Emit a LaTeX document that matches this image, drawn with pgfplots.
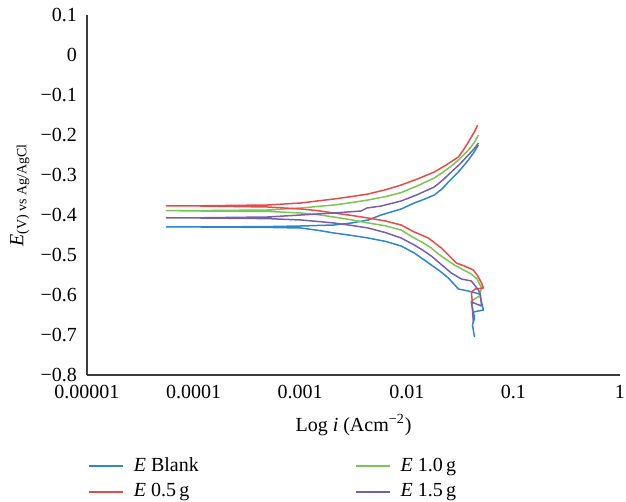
\documentclass[border=0pt]{standalone}
\usepackage{fontspec}
\setmainfont{Liberation Serif}
\usepackage{pgfplots}
\pgfplotsset{compat=1.18}
\definecolor{cBlank}{RGB}{46,134,203}
\definecolor{cHalf}{RGB}{228,75,75}
\definecolor{cOne}{RGB}{122,197,84}
\definecolor{cOneHalf}{RGB}{121,95,170}
\definecolor{axgray}{RGB}{60,60,60}
\begin{document}
\begin{tikzpicture}
\useasboundingbox (-43.5pt,-63.5pt) rectangle (269.5pt,187.5pt);
\begin{axis}[
  scale only axis,
  width=266.5pt, height=180pt,
  xmin=-5, xmax=0, ymin=-0.8, ymax=0.1,
  axis x line=bottom, axis y line=left,
  axis line style={axgray, line width=0.6pt, -},
  major tick length=0pt,
  xtick={-5,-4,-3,-2,-1,0},
  xticklabels={0.00001,0.0001,0.001,0.01,0.1,1},
  ytick={-0.8,-0.7,-0.6,-0.5,-0.4,-0.3,-0.2,-0.1,0,0.1},
  yticklabels={−0.8,−0.7,−0.6,−0.5,−0.4,−0.3,−0.2,−0.1,0,0.1},
  tick label style={font=\fontsize{10}{12}\selectfont},
  yticklabel style={xshift=-1.5pt},
  xticklabel style={yshift=-1.5pt},
  xlabel={Log \textit{i} (Acm\textsuperscript{−2})},
  ylabel={\textit{E}\textsubscript{(V) vs Ag/AgCl}},
  label style={font=\fontsize{10}{12}\selectfont},
  xlabel style={at={(axis description cs:0.5,-0.139)}, anchor=center},
  ylabel style={at={(axis description cs:-0.126,0.5)}, anchor=center, rotate=0},
  clip=false,
  legend columns=2,
  legend cell align=left,
  legend style={at={(axis description cs:-0.01,-0.2065)}, anchor=north west, draw=none,
    font=\fontsize{10}{12}\selectfont, row sep=0.5pt,
    /tikz/every odd column/.append style={column sep=3pt},
    /tikz/every even column/.append style={column sep=76pt}},
  legend image code/.code={\draw[#1, line width=0.9pt] (0pt,0pt) -- (17pt,0pt);},
  every axis plot/.append style={line width=0.75pt, line join=round},
]
\addplot[cBlank] coordinates {
(-1.365,-0.705) (-1.384,-0.675) (-1.365,-0.6575) (-1.375,-0.6425) (-1.281,-0.6375)
(-1.318,-0.5975) (-1.422,-0.59) (-1.516,-0.585) (-1.560,-0.572) (-1.610,-0.5575) (-1.690,-0.540) (-1.770,-0.525)
(-1.836,-0.5125) (-1.930,-0.495) (-2.053,-0.4775) (-2.200,-0.466) (-2.363,-0.4575) (-2.520,-0.451) (-2.684,-0.445)
(-2.840,-0.438) (-2.994,-0.4325) (-3.305,-0.431) (-3.936,-0.43) (-4.256,-0.43)
(-3.936,-0.43) (-3.305,-0.429) (-2.994,-0.4275) (-2.684,-0.425) (-2.520,-0.420) (-2.363,-0.4125)
(-2.241,-0.4) (-2.053,-0.385) (-1.930,-0.37) (-1.830,-0.360) (-1.742,-0.35) (-1.670,-0.335) (-1.610,-0.3175)
(-1.516,-0.2925) (-1.422,-0.2625) (-1.370,-0.243) (-1.328,-0.225)
};
\addlegendentry{\textit{E} Blank}
\addplot[cOne] coordinates {
(-1.375,-0.6425) (-1.394,-0.615) (-1.318,-0.6025) (-1.299,-0.5825) (-1.340,-0.560) (-1.394,-0.5475)
(-1.470,-0.537) (-1.554,-0.525) (-1.630,-0.511) (-1.704,-0.4975) (-1.770,-0.4825) (-1.850,-0.469) (-1.930,-0.4575) (-2.053,-0.4375)
(-2.200,-0.427) (-2.363,-0.42) (-2.520,-0.412) (-2.684,-0.405) (-2.840,-0.399) (-2.994,-0.395) (-3.305,-0.391) (-3.936,-0.39) (-4.256,-0.389)
(-3.936,-0.389) (-3.305,-0.3875) (-2.994,-0.3825) (-2.684,-0.375) (-2.520,-0.369) (-2.363,-0.3625)
(-2.200,-0.354) (-2.053,-0.344) (-1.900,-0.327) (-1.742,-0.3075) (-1.660,-0.293) (-1.582,-0.2775) (-1.500,-0.259) (-1.422,-0.2375) (-1.370,-0.220) (-1.328,-0.2)
};
\addlegendentry{\textit{E} 1.0\,g}
\addplot[cHalf] coordinates {
(-1.384,-0.6225) (-1.394,-0.5925) (-1.356,-0.585) (-1.281,-0.5825) (-1.299,-0.57) (-1.335,-0.552)
(-1.375,-0.5375) (-1.460,-0.5275) (-1.535,-0.52) (-1.610,-0.5) (-1.676,-0.4825)
(-1.798,-0.4575) (-1.930,-0.4425) (-2.053,-0.425) (-2.200,-0.415) (-2.363,-0.4075) (-2.520,-0.401) (-2.684,-0.395)
(-2.840,-0.389) (-2.994,-0.385) (-3.305,-0.38) (-3.936,-0.3775) (-4.256,-0.377)
(-3.936,-0.377) (-3.305,-0.375) (-2.994,-0.37) (-2.840,-0.365) (-2.684,-0.36) (-2.520,-0.354) (-2.363,-0.3475)
(-2.200,-0.337) (-2.053,-0.325) (-1.900,-0.310) (-1.742,-0.2925) (-1.630,-0.275) (-1.516,-0.255) (-1.470,-0.238) (-1.422,-0.2175) (-1.356,-0.1875) (-1.337,-0.175)
};
\addlegendentry{\textit{E} 0.5\,g}
\addplot[cOneHalf] coordinates {
(-1.375,-0.67) (-1.384,-0.6375) (-1.394,-0.6175) (-1.299,-0.6275) (-1.309,-0.6)
(-1.328,-0.5875) (-1.394,-0.565) (-1.488,-0.56) (-1.582,-0.545) (-1.680,-0.523) (-1.770,-0.5025)
(-1.850,-0.488) (-1.930,-0.475) (-2.053,-0.4575) (-2.200,-0.444) (-2.363,-0.4325) (-2.520,-0.426) (-2.684,-0.42) (-2.840,-0.416) (-2.994,-0.4125)
(-3.305,-0.409) (-3.936,-0.4075) (-4.256,-0.407)
(-3.936,-0.407) (-3.305,-0.405) (-2.994,-0.4) (-2.684,-0.395) (-2.429,-0.39)
(-2.373,-0.3825) (-2.241,-0.3775) (-2.053,-0.365) (-1.900,-0.349) (-1.742,-0.33) (-1.660,-0.312) (-1.582,-0.2925)
(-1.500,-0.272) (-1.422,-0.25) (-1.370,-0.235) (-1.328,-0.22)
};
\addlegendentry{\textit{E} 1.5\,g}
\end{axis}
\end{tikzpicture}
\end{document}
